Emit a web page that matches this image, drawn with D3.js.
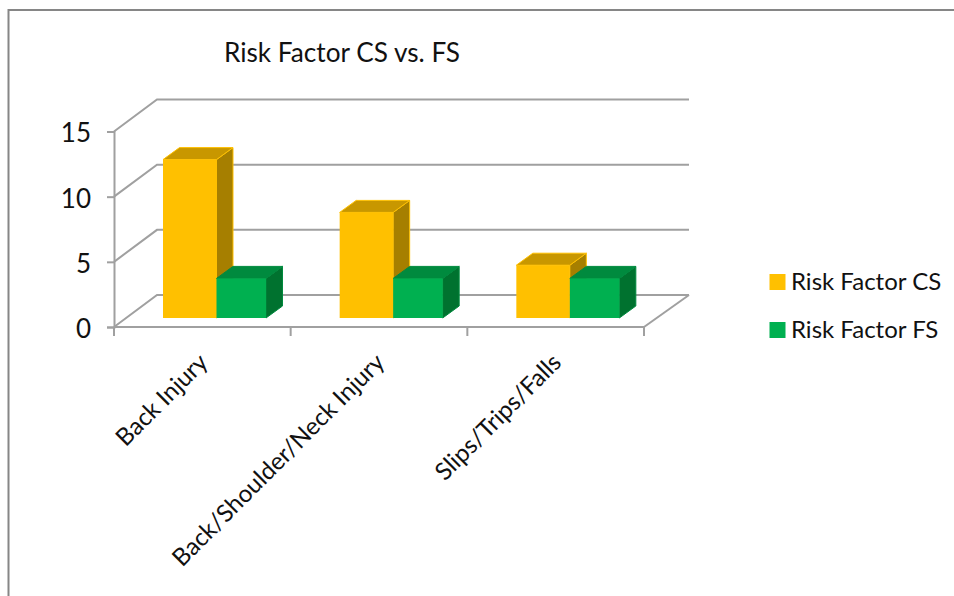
<!DOCTYPE html>
<html><head><meta charset="utf-8">
<script src="https://cdn.jsdelivr.net/npm/d3@7/dist/d3.min.js"></script>
<style>html,body{margin:0;padding:0;background:#fff}svg{display:block}text{font-family:Lato,"Open Sans",sans-serif;fill:#111}</style>
</head><body><svg id="c" width="954" height="596"></svg>
<script>
const title = "Risk Factor CS vs. FS";
const categories = ["Back Injury", "Back/Shoulder/Neck Injury", "Slips/Trips/Falls"];
const seriesNames = ["Risk Factor CS", "Risk Factor FS"];
const riskCS = [12, 8, 4];
const riskFS = [3, 3, 3];
const yTicks = [0, 5, 10, 15];

const svg = d3.select("#c");
const depth = {x: 43, y: -32}, barDepth = {x: 16.5, y: -12};
const gridC = "#a0a0a0";

// frame
svg.append("path").attr("d", "M8.5,600V10H960").attr("fill", "none").attr("stroke", "#868686").attr("stroke-width", 2);

const x = d3.scaleBand().domain(categories).range([114, 644]);
const y = d3.scaleLinear().domain([0, 15]).range([327, 131.5]);
const yBar = d3.scaleLinear().domain([0, 15]).range([318, 120]);
const barX = {cs: 49, w1: 53.5, w2: 49.5};

// walls and gridlines
const g = svg.append("g").attr("fill", "none").attr("stroke", gridC).attr("stroke-width", 2);
yTicks.forEach(t => {
  g.append("path").attr("d", `M114,${y(t)}L${114 + depth.x},${y(t) + depth.y}H689`);
});
g.append("path").attr("d", `M644,${y(0)}L689,${y(0) + depth.y}`);
g.append("line").attr("x1", 114).attr("x2", 644).attr("y1", y(0)).attr("y2", y(0));

// axes
const ax = svg.append("g").attr("transform", "translate(114,0)")
  .call(d3.axisLeft(y).tickValues(yTicks).tickSize(7).tickPadding(16));
ax.select(".domain").attr("stroke", gridC).attr("stroke-width", 2);
ax.selectAll("line").attr("stroke", gridC).attr("stroke-width", 2);
ax.selectAll("text").attr("font-size", 26).attr("font-family", "Lato").attr("fill", "#111").attr("dy", "0.4em");

const xAxis = svg.append("g").attr("transform", `translate(0,${y(0)})`)
  .call(d3.axisBottom(x).tickValues([]).tickSize(0));
xAxis.select(".domain").remove();
[...categories.map(c => x(c)), 644].forEach(v => {
  xAxis.append("line").attr("x1", v).attr("x2", v).attr("y1", 0).attr("y2", 9).attr("stroke", gridC).attr("stroke-width", 2);
});

// bars
function box(gp, left, w, v, front, top, side, edge) {
  const yt = yBar(v), y0 = yBar(0), r = left + w, dx = barDepth.x, dy = barDepth.y;
  gp.append("path").attr("d", `M${r},${yt}L${r + dx},${yt + dy}V${y0 + dy}L${r},${y0}Z`).attr("fill", side).attr("stroke", edge).attr("stroke-width", 1);
  gp.append("path").attr("d", `M${left},${yt}L${left + dx},${yt + dy}H${r + dx}L${r},${yt}Z`).attr("fill", top).attr("stroke", edge).attr("stroke-width", 1);
  gp.append("rect").attr("x", left).attr("y", yt).attr("width", w).attr("height", y0 - yt).attr("fill", front);
}
const bars = svg.append("g");
categories.forEach((c, i) => {
  const left = x(c) + barX.cs;
  box(bars, left, barX.w1, riskCS[i], "#ffc000", "#c89700", "#a67f00", "#ffc000");
  box(bars, left + barX.w1, barX.w2, riskFS[i], "#00b050", "#008a3e", "#00722f", "#008a3e");
});

// category labels
categories.forEach(c => {
  svg.append("text").attr("transform", `translate(${x(c) + x.bandwidth() / 2 - 5},${352}) rotate(-45)`)
    .attr("text-anchor", "end").attr("dy", "0.7em").attr("font-size", 24.2).text(c);
});

svg.append("text").attr("x", 224).attr("y", 62).attr("font-size", 26.2).text(title);

// legend
const colors = ["#ffc000", "#00b050"], ly = [282, 330];
seriesNames.forEach((s, i) => {
  svg.append("rect").attr("x", 769.5).attr("y", ly[i] - 8).attr("width", 16).attr("height", 16).attr("fill", colors[i]);
  svg.append("text").attr("x", 791).attr("y", ly[i] + 8).attr("font-size", 24).text(s);
});
</script></body></html>
